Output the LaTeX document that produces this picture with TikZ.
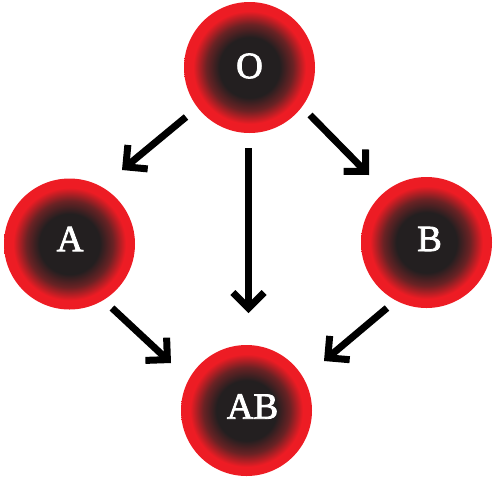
\documentclass[tikz,border=0pt]{standalone}
\usepackage{fontspec}
\setmainfont{Liberation Serif}
\newfontfamily\lblfont[FakeBold=2.2]{Liberation Serif}
\usetikzlibrary{arrows.meta}
\definecolor{bloodred}{HTML}{ED1C24}
\definecolor{core}{HTML}{231F20}
\definecolor{midbrown}{HTML}{6A2224}
\pgfdeclareradialshading{bloodshade}{\pgfpoint{0bp}{0bp}}{color(0bp)=(core);color(11.5bp)=(core);color(16.5bp)=(midbrown);color(21.5bp)=(bloodred);color(50bp)=(bloodred)}
\begin{document}
\begin{tikzpicture}[x=1pt,y=-1pt,
  cell/.style={circle,minimum size=131pt,inner sep=0pt,shading=bloodshade},
  lbl/.style={text=white,font=\lblfont\fontsize{37}{37}\selectfont,inner sep=0pt},
  flow/.style={line width=7pt,-{Straight Barb[angle=90:15pt 1]}}]
\useasboundingbox (0,0) rectangle (498,480);
\node[cell] (O) at (249.5,67.5) {};
\node[cell] (A) at (69.5,244) {};
\node[cell] (B) at (426.5,242.5) {};
\node[cell] (AB) at (246.5,410.5) {};
\node[lbl] (tO) at (249.5,66) {O};
\node[lbl] (tA) at (70,239) {A};
\node[lbl] (tB) at (429.5,239) {B};
\node[lbl] (tAB) at (252.5,406.5) {AB};
\coordinate (oa1) at (186,117);
\coordinate (oa2) at (122,170);
\coordinate (oab1) at (248.5,148);
\coordinate (oab2) at (248.5,313);
\coordinate (ob1) at (310,115);
\coordinate (ob2) at (369,175);
\coordinate (aab1) at (112,308);
\coordinate (aab2) at (171,363);
\coordinate (bab1) at (387,308);
\coordinate (bab2) at (324,361);
\draw[flow] (oa1) -- (oa2);
\draw[flow] (oab1) -- (oab2);
\draw[flow] (ob1) -- (ob2);
\draw[flow] (aab1) -- (aab2);
\draw[flow] (bab1) -- (bab2);
\end{tikzpicture}
\end{document}
